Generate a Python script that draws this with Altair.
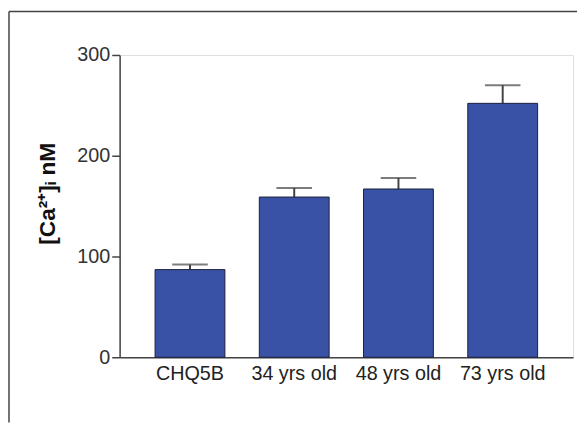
import altair as alt
import pandas as pd

categories = ["CHQ5B", "34 yrs old", "48 yrs old", "73 yrs old"]
means = [87, 159, 167, 252]
errors = [5, 9, 11, 18]

df = pd.DataFrame({
    "cat": categories,
    "mean": means,
    "upper": [m + e for m, e in zip(means, errors)],
})

FONT = "Liberation Sans"

x_enc = alt.X(
    "cat:N", sort=categories, title=None,
    scale=alt.Scale(paddingInner=0.33, paddingOuter=0.34),
    axis=alt.Axis(labelAngle=0, labelAlign="center", labelBaseline="top",
                  labelFontSize=20, labelColor="#222", labelFont=FONT,
                  ticks=False, labelPadding=7, domainColor="#444", domainWidth=1.5),
)
y_scale = alt.Scale(domain=[0, 300], nice=False)

bars = alt.Chart(df).mark_bar(color="#3a52a6", stroke="#1c1f3a", strokeWidth=1).encode(
    x=x_enc,
    y=alt.Y("mean:Q", scale=y_scale, title="[Ca²⁺]ᵢ nM",
            axis=alt.Axis(values=[0, 100, 200, 300], tickSize=8, tickColor="#444",
                          tickWidth=1.5, domainColor="#444", domainWidth=1.5,
                          labelFontSize=20, labelColor="#333", labelFont=FONT,
                          labelPadding=2, grid=False,
                          titleFontSize=23, titleFont=FONT, titleFontWeight="bold",
                          titleColor="#111", titlePadding=18, titleY=140)),
)

err = alt.Chart(df).mark_rule(color="#444", strokeWidth=2).encode(
    x=alt.X("cat:N", sort=categories),
    y=alt.Y("mean:Q", scale=y_scale),
    y2="upper:Q",
)

caps = alt.Chart(df).mark_tick(color="#444", thickness=2, size=36, orient="horizontal").encode(
    x=alt.X("cat:N", sort=categories),
    y=alt.Y("upper:Q", scale=y_scale),
)

frame_df = pd.DataFrame({"a": [0]})
frame_left = alt.Chart(frame_df).mark_rule(color="#444", strokeWidth=1.5).encode(
    x=alt.value(-112), y=alt.value(-44), y2=alt.value(372),
)
frame_top = alt.Chart(frame_df).mark_rule(color="#444", strokeWidth=1.5).encode(
    x=alt.value(-112), x2=alt.value(470), y=alt.value(-44),
)

chart = alt.layer(err, caps, bars, frame_left, frame_top).properties(
    width=459, height=306,
    autosize=alt.AutoSizeParams(type="none"),
    padding={"left": 113, "top": 45, "right": 4, "bottom": 66},
).configure_view(stroke=None).configure(background="white")

chart.save("out.html", embed_options={"renderer": "svg", "actions": False})
